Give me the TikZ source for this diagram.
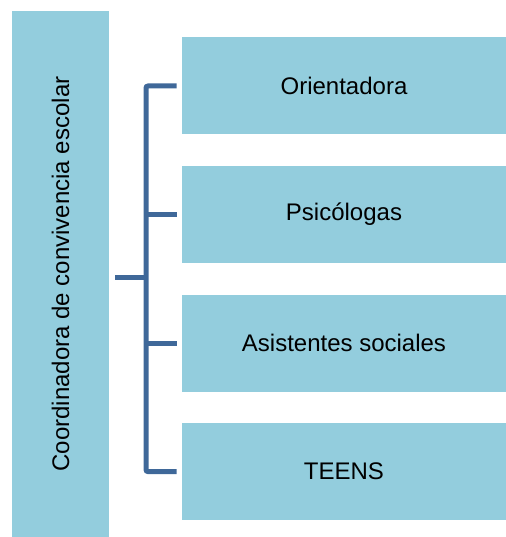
\documentclass[tikz,border=0pt]{standalone}
\usepackage{fontspec}
\setmainfont{Liberation Sans}
\usetikzlibrary{positioning}

\definecolor{boxfill}{RGB}{147,205,221}
\definecolor{linkblue}{RGB}{63,104,153}

\begin{document}
\begin{tikzpicture}[x=0.75pt, y=0.75pt, node distance=23.25pt,
    box/.style={rectangle, fill=boxfill, inner sep=0pt, minimum width=243pt, minimum height=72.75pt, font=\fontsize{18pt}{21pt}\selectfont},
    link/.style={draw=linkblue, line width=3.75pt, rounded corners=1.5pt}]
			\useasboundingbox (0,0) rectangle (506,537);
			\node[box, rotate=90, minimum width=394.5pt, minimum height=72.75pt] (coord) at (60.5,263) {Coordinadora de convivencia escolar};
			
			\node[box] (orient) at (344,451) {Orientadora};
			\node[box, below=of orient] (psico) {Psicólogas};
			\node[box, below=of psico] (asist) {Asistentes sociales};
			\node[box, below=of asist] (teens) {TEENS};
			
			\coordinate (hub) at (146,259);
			\draw[link, shorten <=4.5pt] (coord.south |- hub) -- (hub);
			\draw[link, shorten <=3.75pt, shorten >=3.75pt] (orient.west) -| (hub) |- (teens.west);
			\draw[link, shorten <=3.75pt] (psico.west) -- (psico.west -| hub);
			\draw[link, shorten <=3.75pt] (asist.west) -- (asist.west -| hub);
		\end{tikzpicture}
\end{document}
